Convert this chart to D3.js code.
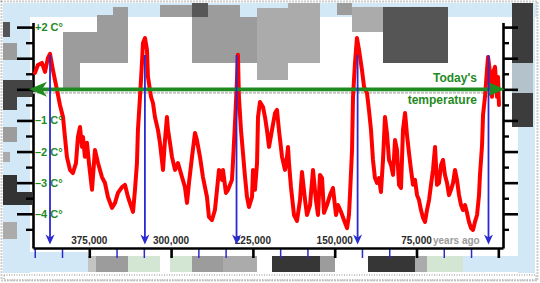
<!DOCTYPE html>
<html>
<head>
<meta charset="utf-8">
<script src="https://cdn.jsdelivr.net/npm/d3@7"></script>
<style>
  html, body { margin: 0; padding: 0; background: #ffffff; }
  svg { display: block; }
  text { font-family: "Liberation Sans", Arial, sans-serif; font-weight: bold; }
</style>
</head>
<body>
<svg id="chart" width="540" height="283"></svg>
<script>
// ---- DATA (Vostok ice core temperature, thousands of years ago / °C vs today) ----
const ageKyr = [424.8,422.1,418.4,415.6,412.9,411.0,408.3,404.6,401.9,399.1,397.3,395.5,392.7,390.0,387.2,385.4,383.5,381.7,380.8,379.0,377.1,375.3,372.5,369.8,367.0,363.4,360.6,357.9,354.2,351.4,348.7,345.0,342.3,339.5,337.7,334.9,333.1,331.3,330.4,328.5,326.7,325.8,323.9,322.1,321.2,318.4,316.6,314.8,312.0,310.2,307.4,305.6,303.8,302.8,301.0,299.2,296.4,293.7,290.0,287.3,285.4,283.6,280.8,278.1,276.3,273.5,270.8,267.1,265.3,262.5,259.8,257.9,256.1,253.3,252.4,249.7,247.8,244.2,243.3,241.4,239.6,238.7,237.8,235.9,234.1,232.2,230.4,228.6,225.8,224.9,223.1,221.2,220.3,218.5,215.7,213.9,212.1,210.2,207.5,204.7,202.9,201.1,198.3,195.6,193.7,192.8,191.9,190.1,187.3,184.6,181.8,180.0,177.2,175.4,172.6,169.9,167.2,165.3,163.5,161.6,159.8,157.1,154.3,151.6,148.8,147.0,144.2,141.5,138.7,136.9,136.0,134.1,133.2,131.4,129.6,127.7,125.0,123.1,120.4,118.6,116.7,114.9,113.1,111.2,109.4,107.6,105.7,103.9,102.1,100.2,98.4,96.5,94.7,92.9,91.0,89.2,87.4,85.5,83.7,81.9,80.0,78.2,76.4,74.5,72.7,70.9,69.0,67.2,65.4,63.5,61.7,59.9,58.0,56.2,54.4,52.5,50.7,48.9,47.0,45.2,43.4,41.5,39.7,37.9,36.0,34.2,32.4,30.5,28.7,26.9,25.0,23.2,21.4,19.5,17.7,16.8,14.9,14.0,12.2,10.4,9.4,7.6,5.8,4.9,3.0,1.2,0.3,-0.6];
const tempC = [0.53,0.78,0.85,0.56,1.01,1.14,0.62,-0.02,-0.50,-0.89,-1.53,-2.17,-2.59,-2.69,-2.37,-1.53,-1.21,-1.85,-1.53,-2.17,-1.72,-2.37,-3.23,-1.95,-2.37,-2.82,-3.01,-3.46,-3.81,-3.65,-3.33,-3.14,-3.07,-3.46,-3.65,-3.94,-3.23,-2.37,-1.31,-0.24,0.85,1.49,1.65,1.27,0.40,-0.24,-0.44,-0.89,-1.31,-1.72,-2.59,-1.63,-0.89,-1.31,-1.72,-2.17,-2.59,-2.37,-2.82,-3.14,-3.65,-3.01,-2.17,-1.40,-1.63,-2.17,-2.82,-3.46,-4.10,-4.20,-3.88,-3.23,-2.59,-2.91,-2.59,-3.33,-3.23,-2.91,-2.37,-1.08,0.30,1.11,-0.24,-1.31,-2.04,-2.82,-3.46,-3.78,-3.46,-2.59,-3.23,-2.37,-0.89,-0.41,-0.57,-0.89,-1.31,-1.85,-1.31,-0.76,-0.66,-1.31,-2.17,-2.59,-2.17,-1.85,-2.37,-3.14,-4.04,-4.23,-3.56,-2.66,-3.56,-4.04,-3.72,-2.59,-3.56,-4.04,-2.75,-2.85,-3.97,-3.72,-3.40,-3.17,-4.04,-3.72,-3.94,-4.20,-4.46,-4.04,-3.40,-1.95,-0.24,0.85,1.65,1.27,0.62,0.08,-0.12,-0.66,-1.31,-2.27,-2.85,-3.01,-2.85,-3.30,-2.27,-0.89,-1.40,-2.27,-2.43,-2.75,-1.63,-1.95,-3.07,-3.17,-1.31,-0.76,-1.47,-2.04,-2.59,-3.07,-2.91,-3.40,-3.56,-3.88,-4.13,-4.26,-3.88,-3.56,-3.07,-2.59,-1.85,-3.07,-3.01,-2.43,-2.27,-2.75,-3.01,-3.40,-3.23,-3.01,-2.59,-2.91,-3.40,-3.72,-3.88,-3.72,-3.97,-4.26,-4.46,-4.52,-4.26,-4.04,-3.40,-2.75,-1.79,-0.82,-0.24,0.62,1.04,0.53,-0.24,0.53,0.72,-0.24,0.40,-0.50];

// interglacial peaks marked with blue arrows (kyr ago)
const peakAgesKyr = [411, 324, 240, 129, 9];
// bottom axis labels
const ageTickKyr = [375, 300, 225, 150, 75];
const ageTickLabels = ["375,000", "300,000", "225,000", "150,000", "75,000"];
const ageUnitLabel = "years ago";
// left axis labels
const tempLabelValues = [2, -1, -2, -3, -4];
const tempLabels = ["+2 C°", "–1 C°", "–2 C°", "–3 C°", "–4 C°"];
const todayLabel = ["Today's", "temperature"];

// ---- decorative backdrop (pixelated background of the original image) ----
const backdrop = [
  [3,3,534,14,"#d3e8f7"],[3,3,27,270,"#d3e8f7"],[518,3,17,270,"#d3e8f7"],
  [3,252,85,20,"#d3e8f7"],[463,256,72,16,"#d3e8f7"],
  [63,32,17,56,"#9c9c9c"],[80,32,17,31,"#9c9c9c"],[97,15,16,48,"#9c9c9c"],[113,7,15,56,"#9c9c9c"],
  [160,5,32,12,"#9c9c9c"],[192,3,16,14,"#575757"],[192,17,65,46,"#9c9c9c"],[208,5,32,12,"#9c9c9c"],
  [257,8,31,72,"#ababab"],[288,3,32,60,"#ababab"],[337,3,15,12,"#9c9c9c"],[352,7,31,25,"#ababab"],
  [383,7,65,56,"#555555"],
  [512,3,21,60,"#3c3c3c"],[512,63,21,30,"#b4c2cc"],[512,93,21,34,"#3c3c3c"],
  [3,22,7,15,"#555555"],[3,43,14,17,"#9c9c9c"],[3,80,14,30,"#444444"],[17,80,15,17,"#444444"],
  [3,127,14,15,"#9c9c9c"],[3,152,7,10,"#ababab"],[3,175,14,30,"#333333"],[17,192,15,13,"#333333"],
  [3,222,14,17,"#ababab"],
  [88,256,8,16,"#c4c4c4"],[96,256,32,16,"#9c9c9c"],[128,256,32,16,"#d3e6d3"],[170,256,22,16,"#d3e6d3"],
  [192,256,31,16,"#9c9c9c"],[223,256,34,16,"#ababab"],[272,256,48,16,"#363636"],[320,256,15,16,"#9c9c9c"],
  [368,256,47,16,"#363636"],[415,256,12,16,"#ababab"],[427,256,36,16,"#d3e6d3"]
];

// ---- drawing ----
const svg = d3.select("#chart");
const x = d3.scaleLinear().domain([426.6, -4.3]).range([33, 503]);
const y = d3.scaleLinear().domain([-5.1, 2.1]).range([248, 24]);

const RED = "#ff0000", GREEN = "#1f8a1f", BLUE = "#2a2ad0";

// backdrop
svg.append("g").selectAll("rect").data(backdrop).join("rect")
  .attr("x", d => d[0]).attr("y", d => d[1]).attr("width", d => d[2]).attr("height", d => d[3])
  .attr("fill", d => d[4]);
// noisy frame
svg.append("rect").attr("x", 1.5).attr("y", 1.5).attr("width", 536).attr("height", 279)
  .attr("fill", "none").attr("stroke", "#9a9a9a").attr("stroke-width", 2).attr("stroke-dasharray", "1,2");
svg.append("rect").attr("x", 4).attr("y", 275).attr("width", 532).attr("height", 5)
  .attr("fill", "none").attr("stroke", "#b0b0b0").attr("stroke-width", 1.5).attr("stroke-dasharray", "1,1.5");

// axes
function styleAxis(g, color, width) {
  g.selectAll("path.domain").attr("stroke", color).attr("stroke-width", width);
  g.selectAll(".tick line").attr("stroke", color).attr("stroke-width", width);
  g.selectAll(".tick text").remove();
}
const tempMajor = d3.range(-4, 2.01, 1);
const tempMinor = d3.range(-4.5, 2, 1);
const yDomTop = 2.15;

// left axis
const yl = d3.scaleLinear().domain([-5.1, yDomTop]).range([248, y(yDomTop)]);
svg.append("g").attr("transform", "translate(33,0)")
  .call(d3.axisLeft(yl).tickValues(tempMajor).tickSize(16).tickSizeOuter(0).tickFormat(""))
  .call(g => styleAxis(g, "#000", 2.6));
svg.append("g").attr("transform", "translate(33,0)")
  .call(d3.axisLeft(yl).tickValues(tempMinor).tickSize(7).tickSizeOuter(0).tickFormat(""))
  .call(g => { styleAxis(g, "#000", 2.4); g.select("path.domain").remove(); });
// right axis
svg.append("g").attr("transform", "translate(503,0)")
  .call(d3.axisRight(yl).tickValues(tempMajor).tickSize(15).tickSizeOuter(0).tickFormat(""))
  .call(g => styleAxis(g, "#000", 2.6));
svg.append("g").attr("transform", "translate(503,0)")
  .call(d3.axisRight(yl).tickValues(tempMinor).tickSize(6).tickSizeOuter(0).tickFormat(""))
  .call(g => { styleAxis(g, "#000", 2.4); g.select("path.domain").remove(); });
// bottom axis: minor blue ticks every 25k, major black every 75k
const minorAges = d3.range(25, 426, 25).filter(a => a % 75 !== 0);
svg.append("g").attr("transform", "translate(0,248)")
  .call(d3.axisBottom(x).tickValues(minorAges).tickSize(10).tickSizeOuter(0).tickFormat(""))
  .call(g => { styleAxis(g, BLUE, 1.5); g.select("path.domain").remove(); });
svg.append("g").attr("transform", "translate(0,248)")
  .call(d3.axisBottom(x).tickValues([0].concat(ageTickKyr)).tickSize(10).tickSizeOuter(0).tickFormat(""))
  .call(g => styleAxis(g, "#000", 2.6));

// shadow under today's line
svg.append("line").attr("x1", x.range()[0]).attr("x2", x.range()[1] - 6)
  .attr("y1", y(0) + 3.5).attr("y2", y(0) + 3.5)
  .attr("stroke", "#c4c4c4").attr("stroke-width", 2).attr("stroke-dasharray", "3,1");

// temperature curve
const series = ageKyr.map((a, i) => ({ age: a, t: tempC[i] }));
svg.append("path").datum(series)
  .attr("d", d3.line().x(d => x(d.age)).y(d => y(d.t)))
  .attr("fill", "none").attr("stroke", RED).attr("stroke-width", 4)
  .attr("stroke-linejoin", "round").attr("stroke-linecap", "round");

// Today's temperature double arrow
const gy = y(0), gx0 = x.range()[0] - 4, gx1 = x.range()[1] + 2;
svg.append("line").attr("x1", gx0 + 12).attr("x2", gx1 - 12).attr("y1", gy).attr("y2", gy)
  .attr("stroke", GREEN).attr("stroke-width", 3.6);
svg.append("path").attr("fill", GREEN)
  .attr("d", `M${gx0},${gy} L${gx0 + 18},${gy - 7.5} L${gx0 + 13},${gy} L${gx0 + 18},${gy + 7.5} Z`);
svg.append("path").attr("fill", GREEN)
  .attr("d", `M${gx1},${gy} L${gx1 - 18},${gy - 7.5} L${gx1 - 13},${gy} L${gx1 - 18},${gy + 7.5} Z`);

// labels: left temperature labels
svg.append("g").selectAll("text").data(tempLabelValues).join("text")
  .attr("x", 35).attr("y", d => y(d)).attr("dy", "0.36em")
  .attr("font-size", 11).attr("fill", GREEN)
  .text((d, i) => tempLabels[i]);

// Today's temperature text
svg.append("text").attr("x", 477).attr("y", 81.5).attr("text-anchor", "end")
  .attr("font-size", 12).attr("fill", GREEN).text(todayLabel[0]);
svg.append("text").attr("x", 477).attr("y", 104).attr("text-anchor", "end")
  .attr("font-size", 12).attr("fill", GREEN).text(todayLabel[1]);

// bottom axis labels (above the axis line)
svg.append("g").selectAll("text").data(ageTickKyr).join("text")
  .attr("x", d => x(d)).attr("y", 243.5).attr("text-anchor", "middle")
  .attr("font-size", 10).attr("fill", "#2a2a2a")
  .text((d, i) => ageTickLabels[i]);
svg.append("text").attr("x", x(75) + 16.5).attr("y", 243.5)
  .attr("font-size", 10).attr("fill", "#9a9a9a").text(ageUnitLabel);

// blue arrows marking interglacial peaks
const arrowTop = y(1.1), arrowTip = 244.5;
const ag = svg.append("g").selectAll("g").data(peakAgesKyr).join("g");
ag.append("line").attr("x1", d => x(d)).attr("x2", d => x(d))
  .attr("y1", arrowTop).attr("y2", arrowTip - 6)
  .attr("stroke", BLUE).attr("stroke-width", 1.8);
ag.append("path").attr("fill", BLUE)
  .attr("d", d => `M${x(d)},${arrowTip} L${x(d) - 4.5},${arrowTip - 10} L${x(d)},${arrowTip - 7} L${x(d) + 4.5},${arrowTip - 10} Z`);
</script>
</body>
</html>
